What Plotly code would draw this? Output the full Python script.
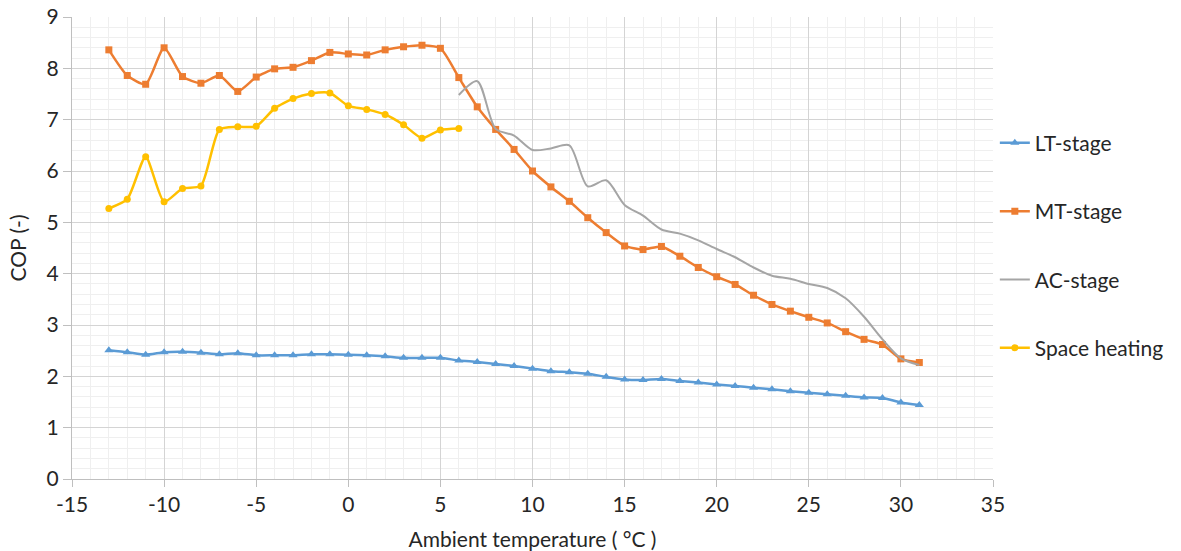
import plotly.graph_objects as go

temps = list(range(-13, 32))
lt_stage = [2.51, 2.47, 2.42, 2.47, 2.48, 2.46, 2.43, 2.45, 2.41, 2.41, 2.41, 2.43, 2.43, 2.42, 2.41,
            2.39, 2.36, 2.36, 2.36, 2.31, 2.28, 2.24, 2.20, 2.15, 2.10, 2.08, 2.05, 1.99, 1.94, 1.93,
            1.95, 1.91, 1.88, 1.84, 1.81, 1.78, 1.75, 1.71, 1.68, 1.65, 1.62, 1.59, 1.58, 1.49, 1.44]
mt_stage = [8.36, 7.86, 7.69, 8.40, 7.84, 7.71, 7.86, 7.55, 7.83, 7.99, 8.02, 8.15, 8.31, 8.28, 8.26,
            8.36, 8.42, 8.45, 8.39, 7.82, 7.25, 6.81, 6.42, 6.00, 5.69, 5.41, 5.09, 4.80, 4.54, 4.47,
            4.53, 4.34, 4.12, 3.94, 3.79, 3.58, 3.40, 3.27, 3.15, 3.04, 2.87, 2.72, 2.62, 2.34, 2.27]

ac_temps = list(range(6, 32))
ac_stage = [7.48, 7.75, 6.82, 6.69, 6.41, 6.44, 6.50, 5.70, 5.82, 5.34, 5.13, 4.86, 4.78, 4.65, 4.48,
            4.32, 4.12, 3.96, 3.90, 3.80, 3.72, 3.52, 3.16, 2.72, 2.35, 2.22]

sh_temps = list(range(-13, 7))
space_heating = [5.27, 5.45, 6.28, 5.40, 5.66, 5.71, 6.81, 6.86, 6.87, 7.22, 7.41, 7.51, 7.52, 7.27,
                 7.20, 7.10, 6.90, 6.64, 6.80, 6.83]

x_tick_vals = [-15, -10, -5, 0, 5, 10, 15, 20, 25, 30, 35]
x_tick_text = ["-15", "-10", "-5", "0", "5", "10", "15", "20", "25", "30", "35"]
y_tick_vals = [0, 1, 2, 3, 4, 5, 6, 7, 8, 9]
y_tick_text = ["0", "1", "2", "3", "4", "5", "6", "7", "8", "9"]

FONT = "Lato"
TXT = "#262626"

fig = go.Figure()
fig.add_trace(go.Scatter(x=temps, y=lt_stage, name="LT-stage", mode="lines+markers", legendgroup="a",
                         line=dict(color="#5B9BD5", width=2.5, shape="spline", smoothing=0.6),
                         marker=dict(symbol="triangle-up", size=8, color="#5B9BD5")))
fig.add_trace(go.Scatter(x=temps, y=mt_stage, name="MT-stage", mode="lines+markers", legendgroup="b",
                         line=dict(color="#ED7D31", width=2.5, shape="spline", smoothing=0.6),
                         marker=dict(symbol="square", size=7, color="#ED7D31")))
fig.add_trace(go.Scatter(x=ac_temps, y=ac_stage, name="AC-stage", mode="lines", legendgroup="c",
                         line=dict(color="#A5A5A5", width=2, shape="spline", smoothing=0.8)))
fig.add_trace(go.Scatter(x=sh_temps, y=space_heating, name="Space heating", mode="lines+markers", legendgroup="d",
                         line=dict(color="#FFC000", width=2.5, shape="spline", smoothing=0.6),
                         marker=dict(symbol="circle", size=7, color="#FFC000")))

fig.update_layout(
    width=1181, height=551,
    margin=dict(l=72, r=186, t=17, b=72),
    paper_bgcolor="white", plot_bgcolor="white",
    font=dict(family=FONT, size=21, color=TXT),
    showlegend=True,
    legend=dict(x=1.002, xanchor="left", y=0.505, yanchor="middle", tracegroupgap=38,
                font=dict(family=FONT, size=21, color=TXT), bgcolor="rgba(0,0,0,0)"),
    xaxis=dict(range=[-15, 35], tickmode="array", tickvals=x_tick_vals, ticktext=x_tick_text,
               automargin=False,
               showgrid=True, gridcolor="#D4D4D4", gridwidth=1,
               zeroline=False, showline=True, linecolor="#BFBFBF", linewidth=1,
               ticks="outside", ticklen=7, tickcolor="#BFBFBF",
               minor=dict(dtick=1, tick0=0, showgrid=True, gridcolor="#EFEFEF", gridwidth=1),
               title=dict(text="Ambient temperature ( °C )", standoff=20,
                          font=dict(family=FONT, size=21, color=TXT)),
               tickfont=dict(family=FONT, size=21, color=TXT)),
    yaxis=dict(range=[0, 9], tickmode="array", tickvals=y_tick_vals, ticktext=y_tick_text,
               automargin=False,
               showgrid=True, gridcolor="#D4D4D4", gridwidth=1,
               zeroline=False, showline=True, linecolor="#BFBFBF", linewidth=1,
               ticks="outside", ticklen=8, tickcolor="#BFBFBF",
               minor=dict(dtick=0.2, tick0=0, showgrid=True, gridcolor="#EFEFEF", gridwidth=1),
               title=dict(text="COP (-)", standoff=14, font=dict(family=FONT, size=21, color=TXT)),
               tickfont=dict(family=FONT, size=21, color=TXT)),
)

fig.write_html("out.html")
